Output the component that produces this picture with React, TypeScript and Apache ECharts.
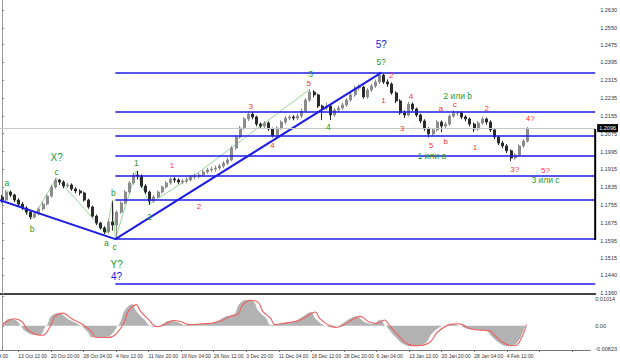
import React, { useEffect, useRef } from "react";
import * as echarts from "echarts";

const timeLabels = ["6 Oct 04:00", "13 Oct 12:00", "20 Oct 20:00", "28 Oct 04:00", "4 Nov 12:00", "11 Nov 20:00", "19 Nov 04:00", "26 Nov 12:00", "3 Dec 20:00", "11 Dec 04:00", "18 Dec 12:00", "28 Dec 20:00", "6 Jan 04:00", "13 Jan 12:00", "20 Jan 20:00", "28 Jan 04:00", "4 Feb 12:00"];
const priceTicks = [1.263, 1.255, 1.2475, 1.2395, 1.2315, 1.2235, 1.2155, 1.2075, 1.1995, 1.1915, 1.1835, 1.1755, 1.1675, 1.1595, 1.1515, 1.144, 1.136];
const oscTicks = [-0.00823, 0, 0.01014];
const lastPrice = 1.2096;

// [open, close, low, high]
const bars = [
  [1.1790,1.1777,1.1765,1.1800],[1.1777,1.1813,1.1770,1.1822],[1.1813,1.1800,1.1790,1.1820],[1.1800,1.1777,1.1768,1.1806],
  [1.1777,1.1759,1.1750,1.1785],[1.1759,1.1741,1.1733,1.1768],[1.1741,1.1723,1.1712,1.1750],[1.1723,1.1701,1.1690,1.1728],
  [1.1701,1.1715,1.1695,1.1725],[1.1715,1.1737,1.1708,1.1745],[1.1737,1.1759,1.1730,1.1768],[1.1759,1.1795,1.1752,1.1803],
  [1.1795,1.1836,1.1788,1.1845],[1.1836,1.1867,1.1828,1.1876],[1.1867,1.1858,1.1845,1.1872],[1.1858,1.1840,1.1830,1.1865],
  [1.1840,1.1845,1.1832,1.1855],[1.1845,1.1827,1.1818,1.1852],[1.1827,1.1818,1.1808,1.1835],[1.1818,1.1809,1.1798,1.1825],
  [1.1809,1.1777,1.1770,1.1815],[1.1777,1.1746,1.1738,1.1783],[1.1746,1.1705,1.1698,1.1752],[1.1705,1.1674,1.1665,1.1712],
  [1.1674,1.1652,1.1644,1.1680],[1.1652,1.1634,1.1625,1.1660],[1.1634,1.1679,1.1628,1.1690],[1.1679,1.1665,1.1640,1.1770],
  [1.1665,1.1723,1.1603,1.1730],[1.1723,1.1764,1.1715,1.1772],[1.1764,1.1813,1.1758,1.1822],[1.1813,1.1854,1.1805,1.1862],
  [1.1854,1.1890,1.1846,1.1900],[1.1890,1.1885,1.1870,1.1908],[1.1885,1.1840,1.1832,1.1892],[1.1840,1.1813,1.1805,1.1848],
  [1.1813,1.1773,1.1755,1.1820],[1.1773,1.1791,1.1765,1.1800],[1.1791,1.1813,1.1785,1.1820],[1.1813,1.1836,1.1806,1.1843],
  [1.1836,1.1854,1.1828,1.1862],[1.1854,1.1872,1.1846,1.1880],[1.1872,1.1867,1.1855,1.1882],[1.1867,1.1858,1.1848,1.1875],
  [1.1858,1.1862,1.1848,1.1872],[1.1862,1.1867,1.1852,1.1878],[1.1867,1.1881,1.1860,1.1890],[1.1881,1.1885,1.1870,1.1895],
  [1.1885,1.1890,1.1876,1.1900],[1.1890,1.1903,1.1882,1.1912],[1.1903,1.1912,1.1895,1.1922],[1.1912,1.1916,1.1902,1.1926],
  [1.1916,1.1921,1.1905,1.1932],[1.1921,1.1930,1.1912,1.1940],[1.1930,1.1943,1.1920,1.1952],[1.1943,1.1957,1.1935,1.1968],
  [1.1957,1.2011,1.1950,1.2020],[1.2011,1.2060,1.2002,1.2070],[1.2060,1.2100,1.2052,1.2110],[1.2100,1.2141,1.2092,1.2150],
  [1.2141,1.2163,1.2132,1.2175],[1.2163,1.2150,1.2140,1.2172],[1.2150,1.2118,1.2108,1.2156],[1.2118,1.2109,1.2098,1.2125],
  [1.2109,1.2123,1.2100,1.2132],[1.2123,1.2096,1.2088,1.2130],[1.2096,1.2065,1.2058,1.2102],[1.2065,1.2100,1.2060,1.2108],
  [1.2100,1.2127,1.2092,1.2135],[1.2127,1.2145,1.2118,1.2155],[1.2145,1.2150,1.2135,1.2160],[1.2150,1.2145,1.2135,1.2158],
  [1.2145,1.2154,1.2136,1.2165],[1.2154,1.2177,1.2145,1.2188],[1.2177,1.2226,1.2170,1.2235],[1.2226,1.2262,1.2218,1.2275],
  [1.2262,1.2249,1.2238,1.2270],[1.2249,1.2199,1.2190,1.2255],[1.2199,1.2190,1.2136,1.2205],[1.2190,1.2199,1.2180,1.2215],
  [1.2199,1.2159,1.2136,1.2205],[1.2159,1.2181,1.2150,1.2190],[1.2181,1.2190,1.2172,1.2200],[1.2190,1.2204,1.2182,1.2214],
  [1.2204,1.2226,1.2195,1.2235],[1.2226,1.2249,1.2218,1.2258],[1.2249,1.2280,1.2240,1.2290],[1.2280,1.2284,1.2268,1.2296],
  [1.2284,1.2240,1.2232,1.2290],[1.2240,1.2271,1.2232,1.2280],[1.2271,1.2289,1.2262,1.2298],[1.2289,1.2307,1.2280,1.2318],
  [1.2307,1.2338,1.2298,1.2349],[1.2338,1.2307,1.2298,1.2345],[1.2307,1.2298,1.2285,1.2318],[1.2298,1.2258,1.2250,1.2305],
  [1.2258,1.2222,1.2212,1.2265],[1.2222,1.2168,1.2160,1.2230],[1.2168,1.2159,1.2145,1.2180],[1.2159,1.2208,1.2152,1.2218],
  [1.2208,1.2186,1.2176,1.2215],[1.2186,1.2159,1.2150,1.2192],[1.2159,1.2132,1.2122,1.2165],[1.2132,1.2096,1.2088,1.2140],
  [1.2096,1.2074,1.2058,1.2104],[1.2074,1.2092,1.2066,1.2100],[1.2092,1.2127,1.2085,1.2136],[1.2127,1.2109,1.2082,1.2134],
  [1.2109,1.2118,1.2100,1.2128],[1.2118,1.2154,1.2110,1.2162],[1.2154,1.2168,1.2146,1.2180],[1.2168,1.2168,1.2155,1.2178],
  [1.2168,1.2150,1.2140,1.2175],[1.2150,1.2141,1.2130,1.2158],[1.2141,1.2118,1.2108,1.2148],[1.2118,1.2096,1.2082,1.2125],
  [1.2096,1.2123,1.2088,1.2132],[1.2123,1.2141,1.2115,1.2152],[1.2141,1.2127,1.2115,1.2148],[1.2127,1.2092,1.2082,1.2135],
  [1.2092,1.2060,1.2050,1.2100],[1.2060,1.2033,1.2024,1.2068],[1.2033,1.2020,1.2010,1.2042],[1.2020,1.1998,1.1988,1.2028],
  [1.1998,1.1966,1.1952,1.2005],[1.1966,1.1979,1.1958,1.1988],[1.1979,1.2020,1.1972,1.2028],[1.2020,1.2042,1.2012,1.2050],
  [1.2042,1.2096,1.2035,1.2105],
];

const fibLevels = [1.2349, 1.2173, 1.2064, 1.1976, 1.1888, 1.1779, 1.1603, 1.1400];
const fibNames = ["0.0", "23.6", "38.2", "50.0", "61.8", "76.4", "100.0", "127.2"];
const fibStart = 27.6;

const trendPoints = [[-0.5, 1.1777], [27.6, 1.1602], [92.4, 1.2349]];
const wavePoints = [[1.2, 1.1822], [7.3, 1.1692], [13.3, 1.1876], [25.4, 1.1629], [26.9, 1.1777], [27.6, 1.1602], [32.7, 1.1908], [35.9, 1.1759], [48.0, 1.1903], [74.7, 1.2271]];
const scaleMarker = [[144.5, 1.2096], [144.5, 1.1598]];

const greenLabels = [["a", 1.2, 1.1854], ["b", 7.3, 1.1647], ["c", 13.3, 1.1903], ["a", 25.4, 1.1584], ["c", 27.4, 1.1566], ["b", 27.1, 1.1809], ["1", 32.7, 1.1943], ["2", 35.9, 1.1701], ["3", 75.2, 1.2343], ["4", 79.5, 1.2105], ["5?", 92.4, 1.2397], ["2 или b", 111.0, 1.2244], ["1 или a", 104.7, 1.1975], ["3 или c", 132.4, 1.1867]];
const greenBigLabels = [["X?", 13.3, 1.1966], ["Y?", 27.9, 1.1486]];
const blueLabels = [["5?", 92.4, 1.2473], ["4?", 27.9, 1.1432]];
const redLabels = [["1", 41.4, 1.1930], ["2", 48.0, 1.1746], ["3", 60.6, 1.2195], ["4", 65.9, 1.2020], ["5", 74.7, 1.2298], ["1", 92.9, 1.2226], ["2", 94.8, 1.2338], ["3", 97.5, 1.2100], ["4", 99.6, 1.2240], ["5", 104.5, 1.2024], ["a", 106.9, 1.2190], ["b", 108.1, 1.2038], ["c", 110.3, 1.2208], ["1", 115.2, 1.2015], ["2", 118.1, 1.2190], ["3?", 124.9, 1.1912], ["4?", 128.7, 1.2141], ["5?", 132.4, 1.1908]];

const oscHist = [[0,0.0008],[2,0.0026],[4,0.0014],[5,-0.0011],[7,-0.0030],[9,-0.0034],[11,0.0004],[12,0.0034],[14,0.0045],[16,0.0026],[17,0.0019],[19,0.0004],[21,-0.0022],[22,-0.0041],[25,-0.0041],[27,-0.0030],[29,0.0015],[30,0.0052],[32,0.0075],[33,0.0052],[35,0.0022],[37,-0.0004],[39,0.0004],[41,0.0019],[43,0.0015],[45,0.0004],[48,0.0008],[50,0.0008],[53,0.0019],[55,0.0034],[57,0.0041],[58,0.0071],[60,0.0090],[62,0.0082],[63,0.0052],[65,0.0026],[66,0.0004],[69,0.0011],[72,0.0019],[74,0.0034],[76,0.0049],[77,0.0026],[79,0.0004],[81,-0.0007],[83,0.0004],[85,0.0022],[87,0.0034],[89,0.0015],[91,0.0008],[93,0.0022],[94,0.0004],[96,-0.0030],[99,-0.0067],[101,-0.0071],[104,-0.0060],[106,-0.0022],[109,0.0004],[111,0.0008],[112,0.0004],[114,-0.0011],[116,-0.0015],[119,-0.0019],[120,-0.0034],[123,-0.0067],[125,-0.0071],[127,-0.0052],[128.6,0.0000]];
const oscSignal = [[0,0.0004],[3,0.0024],[5,0.0013],[6,-0.0009],[8,-0.0028],[10,-0.0032],[12,0.0002],[13,0.0032],[15,0.0043],[17,0.0025],[18,0.0018],[20,0.0003],[22,-0.0020],[23,-0.0039],[26,-0.0040],[28,-0.0028],[30,0.0012],[31,0.0049],[33,0.0072],[34,0.0050],[36,0.0021],[38,-0.0003],[40,0.0004],[42,0.0018],[44,0.0014],[46,0.0004],[49,0.0007],[51,0.0008],[54,0.0018],[56,0.0032],[58,0.0040],[59,0.0068],[61,0.0087],[63,0.0079],[64,0.0050],[66,0.0025],[67,0.0004],[70,0.0010],[73,0.0018],[75,0.0033],[77,0.0047],[78,0.0025],[80,0.0004],[82,-0.0006],[84,0.0004],[86,0.0021],[88,0.0032],[90,0.0014],[92,0.0008],[94,0.0020],[95,0.0004],[97,-0.0028],[100,-0.0064],[102,-0.0068],[105,-0.0057],[107,-0.0021],[110,0.0004],[112,0.0007],[113,0.0004],[115,-0.0010],[117,-0.0014],[120,-0.0018],[121,-0.0032],[124,-0.0064],[126,-0.0068],[127.5,-0.0045],[128.8,0.0004]];

const N = 145;
const FONT = "Liberation Sans";
const GREEN = "#1f9a1f";
const RED = "#ff3030";
const BLUE = "#1c1ce6";

function labelSeries(list: any[], color: string, size: number) {
  return {
    type: "scatter",
    xAxisIndex: 1,
    yAxisIndex: 0,
    symbolSize: 1,
    itemStyle: { color: "rgba(0,0,0,0)" },
    z: 10,
    silent: true,
    data: list.map((d) => ({ name: d[0], value: [d[1], d[2]] })),
    label: {
      show: true,
      position: "inside",
      formatter: "{b}",
      color,
      opacity: 1,
      textBorderWidth: 0,
      textBorderColor: "transparent",
      fontSize: size,
      fontFamily: FONT,
    },
    labelLayout: { hideOverlap: false },
  };
}

export default function App() {
  const ref = useRef<HTMLDivElement>(null);
  useEffect(() => {
    const chart = echarts.init(ref.current!, null, { renderer: "svg" });
    const cats = Array.from({ length: N }, (_, i) => String(i));
    const isLabelIdx = (i: number) => i >= 4 && (i - 4) % 8 === 0;
    const option: any = {
      animation: false,
      backgroundColor: "#ffffff",
      textStyle: { fontFamily: FONT },
      grid: [
        { left: 0, right: 22, top: 0, height: 294 },
        { left: 0, right: 22, top: 296, height: 54 },
      ],
      xAxis: [
        { type: "category", gridIndex: 0, data: cats, boundaryGap: true, axisLine: { show: true, onZero: false, lineStyle: { color: "#444", width: 2 } }, axisTick: { show: false }, axisLabel: { show: false }, splitLine: { show: false } },
        { type: "value", gridIndex: 0, min: -0.5, max: N - 0.5, show: false },
        {
          type: "category", gridIndex: 1, data: cats, boundaryGap: true,
          axisLine: { show: true, onZero: false, lineStyle: { color: "#777", width: 1 } },
          axisTick: { show: true, alignWithLabel: true, interval: (i: number) => isLabelIdx(i), length: 2, lineStyle: { color: "#777" } },
          axisLabel: { interval: (i: number) => isLabelIdx(i), hideOverlap: false, formatter: (_v: string, i: number) => timeLabels[(i - 4) / 8 + 1] || "", fontSize: 5, color: "#333", align: "left", margin: 3, fontFamily: FONT },
          splitLine: { show: false },
        },
        { type: "value", gridIndex: 1, min: -0.5, max: N - 0.5, show: false },
      ],
      yAxis: [
        {
          type: "value", gridIndex: 0, position: "right", min: 1.13555, max: 1.26749, scale: true,
          axisLine: { show: true, lineStyle: { color: "#999" } },
          axisTick: { show: true, customValues: priceTicks, length: 2, lineStyle: { color: "#888" } },
          axisLabel: { customValues: priceTicks, formatter: (v: number) => v.toFixed(4), fontSize: 5.5, color: "#333", margin: 5, fontFamily: FONT },
          splitLine: { show: false },
        },
        {
          type: "value", gridIndex: 1, position: "right", min: -0.00823, max: 0.01014, scale: true,
          axisLine: { show: true, lineStyle: { color: "#999" } },
          axisTick: { show: true, customValues: oscTicks, length: 2, lineStyle: { color: "#888" } },
          axisLabel: {
            customValues: oscTicks,
            formatter: (v: number) => (v === 0 ? "0.00" : v > 0 ? "{t|" + v.toFixed(5) + "}" : "{b|" + v.toFixed(5) + "}"),
            rich: { t: { padding: [5, 0, 0, 0], fontSize: 5.5 }, b: { padding: [0, 0, 3, 0], fontSize: 5.5 } },
            fontSize: 5.5, color: "#333", margin: 5, fontFamily: FONT,
          },
          splitLine: { show: false },
        },
      ],
      graphic: [
        { type: "text", x: 8, y: 356, style: { text: timeLabels[0], align: "right", verticalAlign: "middle", fontSize: 5, fill: "#333", fontFamily: FONT } },
      ],
      series: [
        {
          type: "candlestick",
          xAxisIndex: 0,
          yAxisIndex: 0,
          data: bars,
          barWidth: 2.5,
          itemStyle: { color: "#8c8c8c", color0: "#2a2a2a", borderColor: "#8c8c8c", borderColor0: "#2a2a2a", borderWidth: 1 },
          markLine: {
            silent: true,
            symbol: ["none", "none"],
            data: [
              {
                yAxis: lastPrice,
                lineStyle: { color: "#c8c8c8", width: 1, type: "solid" },
                label: { show: true, position: "end", formatter: lastPrice.toFixed(4), backgroundColor: "#000", color: "#fff", fontSize: 5.5, padding: [1, 2], distance: 2, fontFamily: FONT },
              },
            ],
          },
          z: 3,
        },
        {
          type: "line",
          xAxisIndex: 1,
          yAxisIndex: 0,
          data: wavePoints,
          symbol: "none",
          lineStyle: { color: "#7acb7a", width: 0.8 },
          z: 2,
          silent: true,
        },
        {
          type: "line",
          xAxisIndex: 1,
          yAxisIndex: 0,
          data: scaleMarker,
          symbol: "none",
          lineStyle: { color: "#000", width: 2 },
          z: 6,
          silent: true,
        },
        {
          type: "line",
          xAxisIndex: 1,
          yAxisIndex: 0,
          data: trendPoints,
          symbol: "none",
          lineStyle: { color: BLUE, width: 2 },
          z: 4,
          silent: true,
          markLine: {
            silent: true,
            symbol: ["none", "none"],
            lineStyle: { color: BLUE, width: 1.5, type: "solid" },
            data: fibLevels.map((lv, k) => [
              { coord: [fibStart, lv], label: { show: false } },
              {
                coord: [N - 0.5, lv],
                label: { show: true, position: "insideEndTop", formatter: fibNames[k], color: BLUE, fontSize: 5, distance: 1, fontFamily: FONT },
              },
            ]),
          },
        },
        labelSeries(greenLabels, GREEN, 8.5),
        labelSeries(greenBigLabels, GREEN, 10),
        labelSeries(blueLabels, BLUE, 10),
        labelSeries(redLabels, RED, 8),
        {
          type: "line",
          xAxisIndex: 3,
          yAxisIndex: 1,
          data: oscHist,
          smooth: 0.4,
          symbol: "none",
          lineStyle: { color: "#fff", width: 1 },
          areaStyle: { color: "#b2b2b2", opacity: 1, origin: 0 },
          silent: true,
        },
        {
          type: "line",
          xAxisIndex: 3,
          yAxisIndex: 1,
          data: oscSignal,
          smooth: 0.4,
          symbol: "none",
          lineStyle: { color: "#f06060", width: 1.1 },
          silent: true,
          z: 3,
        },
      ],
    };
    chart.setOption(option);
    return () => chart.dispose();
  }, []);
  return (
    <div
      ref={ref}
      style={{ position: "fixed", left: 0, top: 0, width: 620, height: 361, overflow: "hidden", background: "#fff" }}
    />
  );
}
